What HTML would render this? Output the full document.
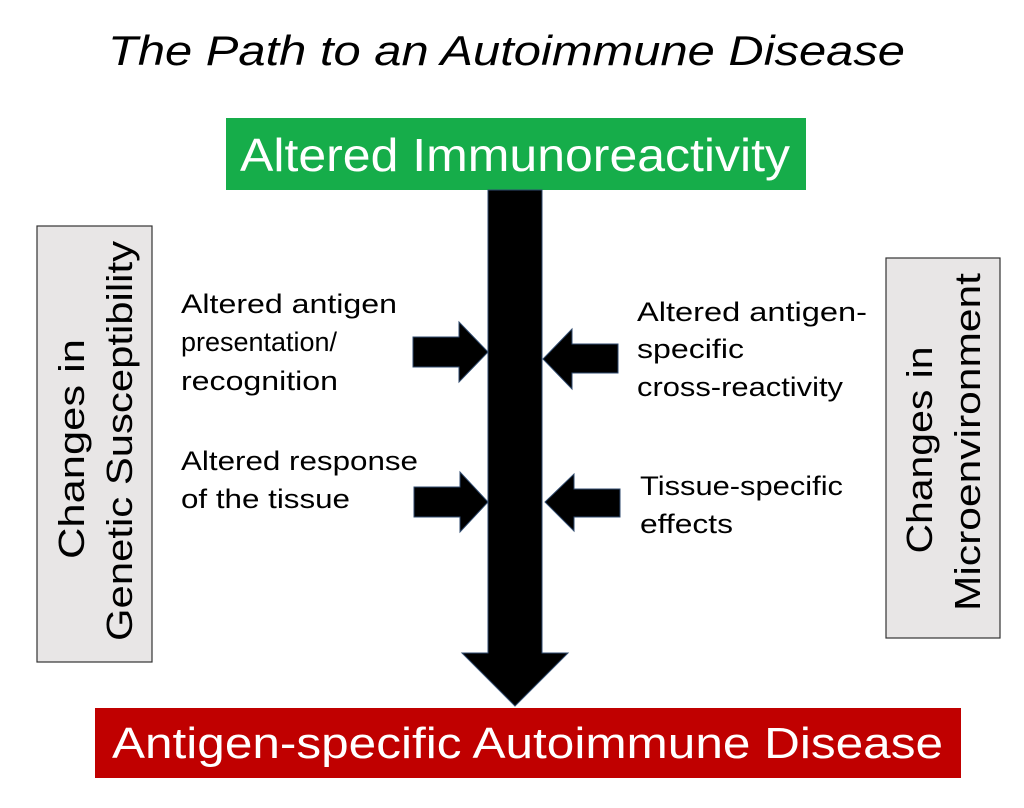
<!DOCTYPE html>
<html><head><meta charset="utf-8"><style>html,body{margin:0;padding:0;background:#fff}svg{display:block}</style></head>
<body>
<svg width="1024" height="808" viewBox="0 0 1024 808" xmlns="http://www.w3.org/2000/svg" font-family="Liberation Sans, sans-serif">
<text x="108" y="65" font-size="42" font-style="italic" textLength="797" lengthAdjust="spacingAndGlyphs">The Path to an Autoimmune Disease</text>
<rect x="226" y="118" width="580" height="72" fill="#16ad4a"/>
<text x="240" y="171" font-size="46" fill="#fff" textLength="550" lengthAdjust="spacingAndGlyphs">Altered Immunoreactivity</text>
<rect x="95" y="708" width="866" height="70" fill="#c00000"/>
<text x="112" y="758" font-size="44" fill="#fff" textLength="831" lengthAdjust="spacingAndGlyphs">Antigen-specific Autoimmune Disease</text>
<g fill="#000" stroke="#2f4a6e" stroke-width="1">
<polygon points="488,190 542,190 542,653 568,653 515,706 462,653 488,653"/>
<polygon points="413,337 459,337 459,322 488,352 459,382 459,367 413,367"/>
<polygon points="414,487 460,487 460,472 488,502 460,532 460,517 414,517"/>
<polygon points="618,344 572,344 572,329 543,359 572,389 572,373 618,373"/>
<polygon points="620,489 574,489 574,474 545,502 574,531 574,517 620,517"/>
</g>
<rect x="37" y="226" width="115" height="436" fill="#e8e6e6" stroke="#333" stroke-width="1.2"/>
<rect x="886" y="258" width="114" height="380" fill="#e8e6e6" stroke="#333" stroke-width="1.2"/>
<g font-size="36" text-anchor="middle">
<text transform="translate(84,449) rotate(-90)" textLength="220" lengthAdjust="spacingAndGlyphs">Changes in</text>
<text transform="translate(132,441) rotate(-90)" textLength="400" lengthAdjust="spacingAndGlyphs">Genetic Susceptibility</text>
<text transform="translate(932,450) rotate(-90)" textLength="207" lengthAdjust="spacingAndGlyphs">Changes in</text>
<text transform="translate(980,442) rotate(-90)" textLength="338" lengthAdjust="spacingAndGlyphs">Microenvironment</text>
</g>
<g font-size="27">
<text x="181" y="313" textLength="216" lengthAdjust="spacingAndGlyphs">Altered antigen</text>
<text x="181" y="351" textLength="156" lengthAdjust="spacingAndGlyphs">presentation/</text>
<text x="181" y="390" textLength="157" lengthAdjust="spacingAndGlyphs">recognition</text>
<text x="181" y="470" textLength="237" lengthAdjust="spacingAndGlyphs">Altered response</text>
<text x="181" y="508" textLength="169" lengthAdjust="spacingAndGlyphs">of the tissue</text>
<text x="637" y="321" textLength="230" lengthAdjust="spacingAndGlyphs">Altered antigen-</text>
<text x="637" y="358" textLength="107" lengthAdjust="spacingAndGlyphs">specific</text>
<text x="637" y="396" textLength="206" lengthAdjust="spacingAndGlyphs">cross-reactivity</text>
<text x="640" y="495" textLength="203" lengthAdjust="spacingAndGlyphs">Tissue-specific</text>
<text x="640" y="533" textLength="93" lengthAdjust="spacingAndGlyphs">effects</text>
</g>
</svg>
</body></html>
